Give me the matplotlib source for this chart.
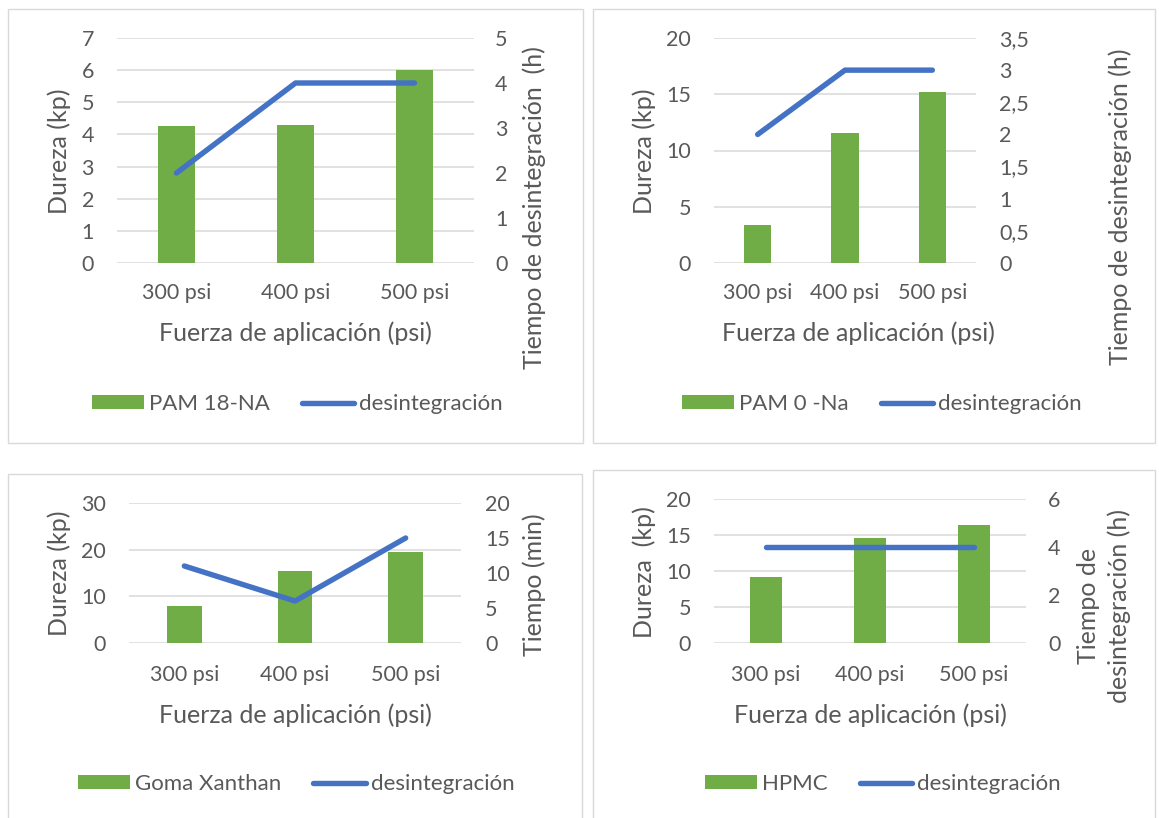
import matplotlib
matplotlib.use("Agg")
import matplotlib.pyplot as plt
from matplotlib.patches import Rectangle
from matplotlib.ticker import FuncFormatter, MultipleLocator

# ---------------- data ----------------
categories = ['300 psi', '400 psi', '500 psi']

dureza_pam18 = [4.25, 4.3, 6.0]
desint_pam18 = [2, 4, 4]

dureza_pam0 = [3.4, 11.6, 15.2]
desint_pam0 = [2, 3, 3]

dureza_xanthan = [7.9, 15.4, 19.4]
desint_xanthan = [11, 6, 15]

dureza_hpmc = [9.2, 14.6, 16.4]
desint_hpmc = [4, 4, 4]

xlabel_text = 'Fuerza de aplicación (psi)'
line_label = 'desintegración'

# ---------------- style ----------------
W, H = 1159, 818
DPI = 100
TXT = '#595959'
GRID = '#d9d9d9'
GREEN = '#70ad47'
BLUE = '#4472c4'
FONT = ['Lato', 'DejaVu Sans']
TICK_FS = 15.5
LEG_FS = 16
TITLE_FS = 18

plt.rcParams['font.family'] = FONT

fig = plt.figure(figsize=(W / DPI, H / DPI), dpi=DPI)


def fx(x):
    return x / W


def fy(y):
    return 1 - y / H


def comma_fmt(v, pos):
    if abs(v - round(v)) < 1e-9:
        return '%d' % round(v)
    return ('%g' % v).replace('.', ',')


panels = [
    dict(box=(8, 9, 583, 443), plot=(117, 38, 474, 263),
         bars=dureza_pam18, line=desint_pam18, bar_label='PAM 18-NA',
         lmax=7, lstep=1, rmax=5, rstep=1,
         lyl='Dureza (kp)', lyl_xy=(59, 151),
         ryl='Tiempo de desintegración  (h)', ryl_xy=(534, 208),
         lpad=23, rpad=21, xtick_y=293, xlab_xy=(295, 333),
         leg_xy=(297, 404)),
    dict(box=(593, 9, 1155, 443), plot=(714, 38, 976, 263),
         bars=dureza_pam0, line=desint_pam0, bar_label='PAM 0 -Na',
         lmax=20, lstep=5, rmax=3.5, rstep=0.5,
         lyl='Dureza (kp)', lyl_xy=(644, 151),
         ryl='Tiempo de desintegración (h)', ryl_xy=(1120, 207),
         lpad=23, rpad=23, xtick_y=293, xlab_xy=(858, 333),
         leg_xy=(882, 404)),
    dict(box=(8, 474, 582, 840), plot=(129, 503, 461, 643),
         bars=dureza_xanthan, line=desint_xanthan, bar_label='Goma Xanthan',
         lmax=30, lstep=10, rmax=20, rstep=5,
         lyl='Dureza (kp)', lyl_xy=(59, 573),
         ryl='Tiempo (min)', ryl_xy=(534, 585),
         lpad=23, rpad=24, xtick_y=675, xlab_xy=(295, 715),
         leg_xy=(296, 784)),
    dict(box=(593, 470, 1155, 840), plot=(714, 499, 1026, 643),
         bars=dureza_hpmc, line=desint_hpmc, bar_label='HPMC',
         lmax=20, lstep=5, rmax=6, rstep=2,
         lyl='Dureza  (kp)', lyl_xy=(644, 572),
         ryl='Tiempo de\ndesintegración (h)', ryl_xy=(1104, 606),
         lpad=23, rpad=22, xtick_y=675, xlab_xy=(870, 715),
         leg_xy=(883, 784)),
]

PX2PT = 72.0 / DPI

for p in panels:
    bl, bt, br, bb = p['box']
    fig.patches.append(Rectangle((fx(bl), fy(bb)), fx(br - bl), (bb - bt) / H,
                                 transform=fig.transFigure, fill=False,
                                 edgecolor=GRID, linewidth=1.0, zorder=0))
    l, t, r, b = p['plot']
    ax = fig.add_axes([fx(l), fy(b), fx(r - l), (b - t) / H])
    ax.set_facecolor('none')
    xs = list(range(len(categories)))
    bars = ax.bar(xs, p['bars'], width=0.313, color=GREEN, zorder=2,
                  label=p['bar_label'])
    ax.set_xlim(-0.5, len(categories) - 0.5)
    ax.set_ylim(0, p['lmax'])
    ax.yaxis.set_major_locator(MultipleLocator(p['lstep']))
    ax.grid(axis='y', color=GRID, linewidth=1.1, zorder=0)
    ax.set_axisbelow(True)
    for s in ax.spines.values():
        s.set_visible(False)
    ax.set_xticks(xs)
    ax.set_xticklabels(categories)
    for lab in ax.get_xticklabels():
        lab.set_verticalalignment('center')
    ax.tick_params(axis='y', length=0, pad=p['lpad'] * PX2PT,
                   labelsize=TICK_FS, labelcolor=TXT)
    ax.tick_params(axis='x', length=0, pad=(p['xtick_y'] - b) * PX2PT,
                   labelsize=TICK_FS, labelcolor=TXT)

    ax2 = ax.twinx()
    ax2.set_ylim(0, p['rmax'])
    ax2.yaxis.set_major_locator(MultipleLocator(p['rstep']))
    ax2.yaxis.set_major_formatter(FuncFormatter(comma_fmt))
    for s in ax2.spines.values():
        s.set_visible(False)
    ax2.tick_params(axis='y', length=0, pad=p['rpad'] * PX2PT,
                    labelsize=TICK_FS, labelcolor=TXT)
    ln, = ax2.plot(xs, p['line'], color=BLUE, linewidth=3.9,
                   solid_capstyle='round', solid_joinstyle='round',
                   clip_on=False, zorder=3, label=line_label)

    fig.text(fx(p['lyl_xy'][0]), fy(p['lyl_xy'][1]), p['lyl'], rotation=90,
             ha='center', va='center', fontsize=TITLE_FS, color=TXT)
    fig.text(fx(p['ryl_xy'][0]), fy(p['ryl_xy'][1]), p['ryl'], rotation=90,
             ha='center', va='center', fontsize=TITLE_FS, color=TXT,
             multialignment='center', linespacing=1.4)
    fig.text(fx(p['xlab_xy'][0]), fy(p['xlab_xy'][1]), xlabel_text,
             ha='center', va='center', fontsize=TITLE_FS, color=TXT)

    leg = fig.legend([bars, ln], [p['bar_label'], line_label],
                     loc='center', bbox_to_anchor=(fx(p['leg_xy'][0]), fy(p['leg_xy'][1])),
                     ncol=2, frameon=False, fontsize=LEG_FS,
                     handlelength=2.35, handleheight=0.55, handletextpad=0.22,
                     columnspacing=1.45, borderaxespad=0, borderpad=0)
    for tx in leg.get_texts():
        tx.set_color(TXT)

fig.savefig('out.png', dpi=DPI, facecolor='white')
